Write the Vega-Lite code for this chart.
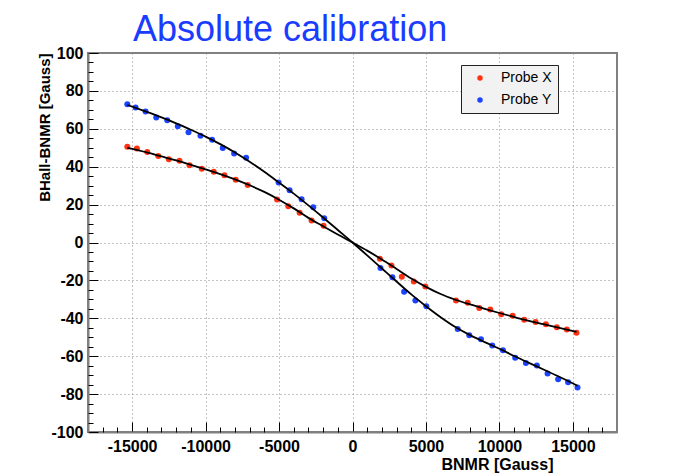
{
  "$schema": "https://vega.github.io/schema/vega-lite/v6.json",
  "width": 529,
  "height": 379,
  "autosize": "none",
  "padding": {"left": 88, "top": 53, "right": 67, "bottom": 44},
  "background": "white",
  "title": {
    "text": "Absolute calibration",
    "anchor": "start",
    "frame": "group",
    "dx": 45,
    "dy": 34,
    "offset": 2,
    "font": "Liberation Sans",
    "fontSize": 36,
    "fontWeight": "normal",
    "color": "#1a3cff",
    "baseline": "alphabetic"
  },
  "config": {
    "view": {"stroke": "#808080", "strokeWidth": 2},
    "font": "Liberation Sans"
  },
  "datasets": {
    "points": [
      {"B_NMR": -15325, "diff": 50.5, "probe": "Probe X"},
      {"B_NMR": -14673, "diff": 49.6, "probe": "Probe X"},
      {"B_NMR": -13967, "diff": 47.8, "probe": "Probe X"},
      {"B_NMR": -13220, "diff": 45.7, "probe": "Probe X"},
      {"B_NMR": -12499, "diff": 43.9, "probe": "Probe X"},
      {"B_NMR": -11772, "diff": 43.1, "probe": "Probe X"},
      {"B_NMR": -11093, "diff": 40.8, "probe": "Probe X"},
      {"B_NMR": -10257, "diff": 38.9, "probe": "Probe X"},
      {"B_NMR": -9442, "diff": 37.3, "probe": "Probe X"},
      {"B_NMR": -8715, "diff": 35.5, "probe": "Probe X"},
      {"B_NMR": -7948, "diff": 33.1, "probe": "Probe X"},
      {"B_NMR": -7133, "diff": 30.4, "probe": "Probe X"},
      {"B_NMR": -5136, "diff": 22.7, "probe": "Probe X"},
      {"B_NMR": -4368, "diff": 19.1, "probe": "Probe X"},
      {"B_NMR": -3600, "diff": 15.7, "probe": "Probe X"},
      {"B_NMR": -2785, "diff": 11.6, "probe": "Probe X"},
      {"B_NMR": -1970, "diff": 8.8, "probe": "Probe X"},
      {"B_NMR": 1861, "diff": -8.6, "probe": "Probe X"},
      {"B_NMR": 2649, "diff": -12.1, "probe": "Probe X"},
      {"B_NMR": 3356, "diff": -18.1, "probe": "Probe X"},
      {"B_NMR": 4171, "diff": -20.6, "probe": "Probe X"},
      {"B_NMR": 4959, "diff": -23.2, "probe": "Probe X"},
      {"B_NMR": 7044, "diff": -30.6, "probe": "Probe X"},
      {"B_NMR": 7839, "diff": -31.8, "probe": "Probe X"},
      {"B_NMR": 8627, "diff": -34.6, "probe": "Probe X"},
      {"B_NMR": 9374, "diff": -35.3, "probe": "Probe X"},
      {"B_NMR": 10122, "diff": -37.8, "probe": "Probe X"},
      {"B_NMR": 10896, "diff": -38.7, "probe": "Probe X"},
      {"B_NMR": 11684, "diff": -40.8, "probe": "Probe X"},
      {"B_NMR": 12458, "diff": -42.0, "probe": "Probe X"},
      {"B_NMR": 13158, "diff": -43.2, "probe": "Probe X"},
      {"B_NMR": 13905, "diff": -44.7, "probe": "Probe X"},
      {"B_NMR": 14584, "diff": -45.9, "probe": "Probe X"},
      {"B_NMR": 15243, "diff": -47.6, "probe": "Probe X"},
      {"B_NMR": -15325, "diff": 72.9, "probe": "Probe Y"},
      {"B_NMR": -14761, "diff": 71.2, "probe": "Probe Y"},
      {"B_NMR": -14082, "diff": 69.1, "probe": "Probe Y"},
      {"B_NMR": -13355, "diff": 65.9, "probe": "Probe Y"},
      {"B_NMR": -12608, "diff": 64.5, "probe": "Probe Y"},
      {"B_NMR": -11888, "diff": 61.3, "probe": "Probe Y"},
      {"B_NMR": -11161, "diff": 58.2, "probe": "Probe Y"},
      {"B_NMR": -10346, "diff": 56.3, "probe": "Probe Y"},
      {"B_NMR": -9551, "diff": 54.2, "probe": "Probe Y"},
      {"B_NMR": -8831, "diff": 49.9, "probe": "Probe Y"},
      {"B_NMR": -8057, "diff": 46.9, "probe": "Probe Y"},
      {"B_NMR": -7241, "diff": 44.7, "probe": "Probe Y"},
      {"B_NMR": -5027, "diff": 31.6, "probe": "Probe Y"},
      {"B_NMR": -4280, "diff": 27.6, "probe": "Probe Y"},
      {"B_NMR": -3464, "diff": 22.8, "probe": "Probe Y"},
      {"B_NMR": -2670, "diff": 18.6, "probe": "Probe Y"},
      {"B_NMR": -1922, "diff": 12.8, "probe": "Probe Y"},
      {"B_NMR": 1902, "diff": -13.5, "probe": "Probe Y"},
      {"B_NMR": 2717, "diff": -18.3, "probe": "Probe Y"},
      {"B_NMR": 3512, "diff": -26.0, "probe": "Probe Y"},
      {"B_NMR": 4280, "diff": -30.6, "probe": "Probe Y"},
      {"B_NMR": 5027, "diff": -33.7, "probe": "Probe Y"},
      {"B_NMR": 7160, "diff": -45.7, "probe": "Probe Y"},
      {"B_NMR": 7948, "diff": -49.0, "probe": "Probe Y"},
      {"B_NMR": 8743, "diff": -51.1, "probe": "Probe Y"},
      {"B_NMR": 9510, "diff": -54.3, "probe": "Probe Y"},
      {"B_NMR": 10237, "diff": -56.9, "probe": "Probe Y"},
      {"B_NMR": 11073, "diff": -60.8, "probe": "Probe Y"},
      {"B_NMR": 11800, "diff": -63.6, "probe": "Probe Y"},
      {"B_NMR": 12547, "diff": -64.9, "probe": "Probe Y"},
      {"B_NMR": 13274, "diff": -69.1, "probe": "Probe Y"},
      {"B_NMR": 13994, "diff": -72.1, "probe": "Probe Y"},
      {"B_NMR": 14673, "diff": -73.8, "probe": "Probe Y"},
      {"B_NMR": 15311, "diff": -76.5, "probe": "Probe Y"}
    ],
    "fits": [
      {"B_NMR": -15325, "diff": 49.9, "series": "X"},
      {"B_NMR": -14000, "diff": 47.5, "series": "X"},
      {"B_NMR": -13000, "diff": 45.4, "series": "X"},
      {"B_NMR": -12000, "diff": 43.3, "series": "X"},
      {"B_NMR": -11000, "diff": 41.0, "series": "X"},
      {"B_NMR": -10000, "diff": 38.6, "series": "X"},
      {"B_NMR": -9000, "diff": 36.1, "series": "X"},
      {"B_NMR": -8000, "diff": 33.3, "series": "X"},
      {"B_NMR": -7000, "diff": 30.2, "series": "X"},
      {"B_NMR": -6000, "diff": 26.7, "series": "X"},
      {"B_NMR": -5000, "diff": 22.6, "series": "X"},
      {"B_NMR": -4000, "diff": 18.0, "series": "X"},
      {"B_NMR": -3000, "diff": 13.0, "series": "X"},
      {"B_NMR": -2000, "diff": 8.6, "series": "X"},
      {"B_NMR": -1000, "diff": 4.2, "series": "X"},
      {"B_NMR": 0, "diff": 0, "series": "X"},
      {"B_NMR": 1000, "diff": -4.3, "series": "X"},
      {"B_NMR": 2000, "diff": -9.0, "series": "X"},
      {"B_NMR": 3000, "diff": -14.0, "series": "X"},
      {"B_NMR": 4000, "diff": -19.0, "series": "X"},
      {"B_NMR": 5000, "diff": -23.4, "series": "X"},
      {"B_NMR": 6000, "diff": -27.2, "series": "X"},
      {"B_NMR": 7000, "diff": -30.2, "series": "X"},
      {"B_NMR": 8000, "diff": -32.7, "series": "X"},
      {"B_NMR": 9000, "diff": -35.0, "series": "X"},
      {"B_NMR": 10000, "diff": -37.2, "series": "X"},
      {"B_NMR": 11000, "diff": -39.3, "series": "X"},
      {"B_NMR": 12000, "diff": -41.3, "series": "X"},
      {"B_NMR": 13000, "diff": -43.1, "series": "X"},
      {"B_NMR": 14000, "diff": -44.9, "series": "X"},
      {"B_NMR": 15243, "diff": -47.2, "series": "X"},
      {"B_NMR": -15325, "diff": 72.6, "series": "Y"},
      {"B_NMR": -14000, "diff": 68.9, "series": "Y"},
      {"B_NMR": -13000, "diff": 66.0, "series": "Y"},
      {"B_NMR": -12000, "diff": 62.9, "series": "Y"},
      {"B_NMR": -11000, "diff": 59.5, "series": "Y"},
      {"B_NMR": -10000, "diff": 55.9, "series": "Y"},
      {"B_NMR": -9000, "diff": 51.9, "series": "Y"},
      {"B_NMR": -8000, "diff": 47.5, "series": "Y"},
      {"B_NMR": -7000, "diff": 42.6, "series": "Y"},
      {"B_NMR": -6000, "diff": 37.3, "series": "Y"},
      {"B_NMR": -5000, "diff": 31.6, "series": "Y"},
      {"B_NMR": -4000, "diff": 25.8, "series": "Y"},
      {"B_NMR": -3000, "diff": 19.6, "series": "Y"},
      {"B_NMR": -2000, "diff": 13.2, "series": "Y"},
      {"B_NMR": -1000, "diff": 6.6, "series": "Y"},
      {"B_NMR": 0, "diff": 0, "series": "Y"},
      {"B_NMR": 1000, "diff": -6.8, "series": "Y"},
      {"B_NMR": 2000, "diff": -13.7, "series": "Y"},
      {"B_NMR": 3000, "diff": -20.6, "series": "Y"},
      {"B_NMR": 4000, "diff": -27.4, "series": "Y"},
      {"B_NMR": 5000, "diff": -33.6, "series": "Y"},
      {"B_NMR": 6000, "diff": -39.4, "series": "Y"},
      {"B_NMR": 7000, "diff": -44.6, "series": "Y"},
      {"B_NMR": 8000, "diff": -48.9, "series": "Y"},
      {"B_NMR": 9000, "diff": -52.6, "series": "Y"},
      {"B_NMR": 10000, "diff": -56.1, "series": "Y"},
      {"B_NMR": 11000, "diff": -59.9, "series": "Y"},
      {"B_NMR": 12000, "diff": -63.5, "series": "Y"},
      {"B_NMR": 13000, "diff": -67.0, "series": "Y"},
      {"B_NMR": 14000, "diff": -70.6, "series": "Y"},
      {"B_NMR": 15311, "diff": -75.6, "series": "Y"}
    ]
  },
  "resolve": {"axis": {"x": "independent", "y": "independent"}},
  "layer": [
    {
      "data": {"name": "points"},
      "mark": {"type": "point", "shape": "circle", "filled": true, "opacity": 1, "size": 36, "strokeWidth": 0},
      "encoding": {
        "x": {
          "field": "B_NMR", "type": "quantitative",
          "scale": {"domain": [-18000, 18000], "nice": false, "zero": false},
          "axis": {
            "orient": "bottom",
            "values": [-15000, -10000, -5000, 0, 5000, 10000, 15000],
            "labelExpr": "'' + datum.value",
            "labelFont": "Liberation Sans", "labelFontSize": 16, "labelFontWeight": "bold", "labelColor": "#000",
            "labelPadding": 16, "labelFlush": false,
            "tickSize": -10, "tickColor": "#000", "tickWidth": 1,
            "domainColor": "#808080", "domainWidth": 2,
            "grid": true, "gridColor": "#888", "gridDash": [1, 3], "gridWidth": 1,
            "title": "BNMR [Gauss]",
            "titleFont": "Liberation Sans", "titleFontSize": 16, "titleFontWeight": "bold", "titleColor": "#000",
            "titleAlign": "right", "titleAnchor": null, "titleX": 465, "titleY": 37, "titleBaseline": "alphabetic"
          }
        },
        "y": {
          "field": "diff", "type": "quantitative",
          "scale": {"domain": [-100, 100], "nice": false, "zero": false},
          "axis": {
            "orient": "left",
            "values": [-100, -80, -60, -40, -20, 0, 20, 40, 60, 80, 100],
            "labelExpr": "'' + datum.value",
            "labelFont": "Liberation Sans", "labelFontSize": 16, "labelFontWeight": "bold", "labelColor": "#000",
            "labelPadding": 15, "labelFlush": false,
            "tickSize": -10, "tickColor": "#000", "tickWidth": 1,
            "domainColor": "#808080", "domainWidth": 2,
            "grid": true, "gridColor": "#888", "gridDash": [1, 3], "gridWidth": 1,
            "title": "BHall-BNMR [Gauss]",
            "titleFont": "Liberation Sans", "titleFontSize": 15, "titleFontWeight": "bold", "titleColor": "#000",
            "titleAngle": -90, "titleAlign": "right", "titleBaseline": "middle", "titleAnchor": null,
            "titleX": -44, "titleY": 0
          }
        },
        "color": {
          "field": "probe", "type": "nominal",
          "scale": {"domain": ["Probe X", "Probe Y"], "range": ["#ff3311", "#1a44ff"]},
          "legend": {
            "title": null, "orient": "none", "legendX": 373, "legendY": 12,
            "fillColor": "#f2f2f2", "strokeColor": "#222", "padding": 6,
            "symbolType": "circle", "symbolSize": 30, "symbolOffset": 6,
            "labelFont": "Liberation Sans", "labelFontSize": 14, "labelColor": "#000", "labelOffset": 14,
            "rowPadding": 8
          }
        }
      }
    },
    {
      "data": {"name": "fits"},
      "mark": {"type": "line", "color": "#000", "strokeWidth": 1.8, "interpolate": "monotone"},
      "encoding": {
        "x": {
          "field": "B_NMR", "type": "quantitative",
          "axis": {
            "orient": "bottom",
            "values": [-17000, -16000, -14000, -13000, -12000, -11000, -9000, -8000, -7000, -6000, -4000, -3000, -2000, -1000, 1000, 2000, 3000, 4000, 6000, 7000, 8000, 9000, 11000, 12000, 13000, 14000, 16000, 17000],
            "labels": false, "grid": false, "domain": false, "title": null,
            "tickSize": -5, "tickColor": "#000", "tickWidth": 1
          }
        },
        "y": {
          "field": "diff", "type": "quantitative",
          "axis": {
            "orient": "left",
            "values": [-95, -90, -85, -75, -70, -65, -55, -50, -45, -35, -30, -25, -15, -10, -5, 5, 10, 15, 25, 30, 35, 45, 50, 55, 65, 70, 75, 85, 90, 95],
            "labels": false, "grid": false, "domain": false, "title": null,
            "tickSize": -5, "tickColor": "#000", "tickWidth": 1
          }
        },
        "detail": {"field": "series", "type": "nominal"}
      }
    }
  ]
}
